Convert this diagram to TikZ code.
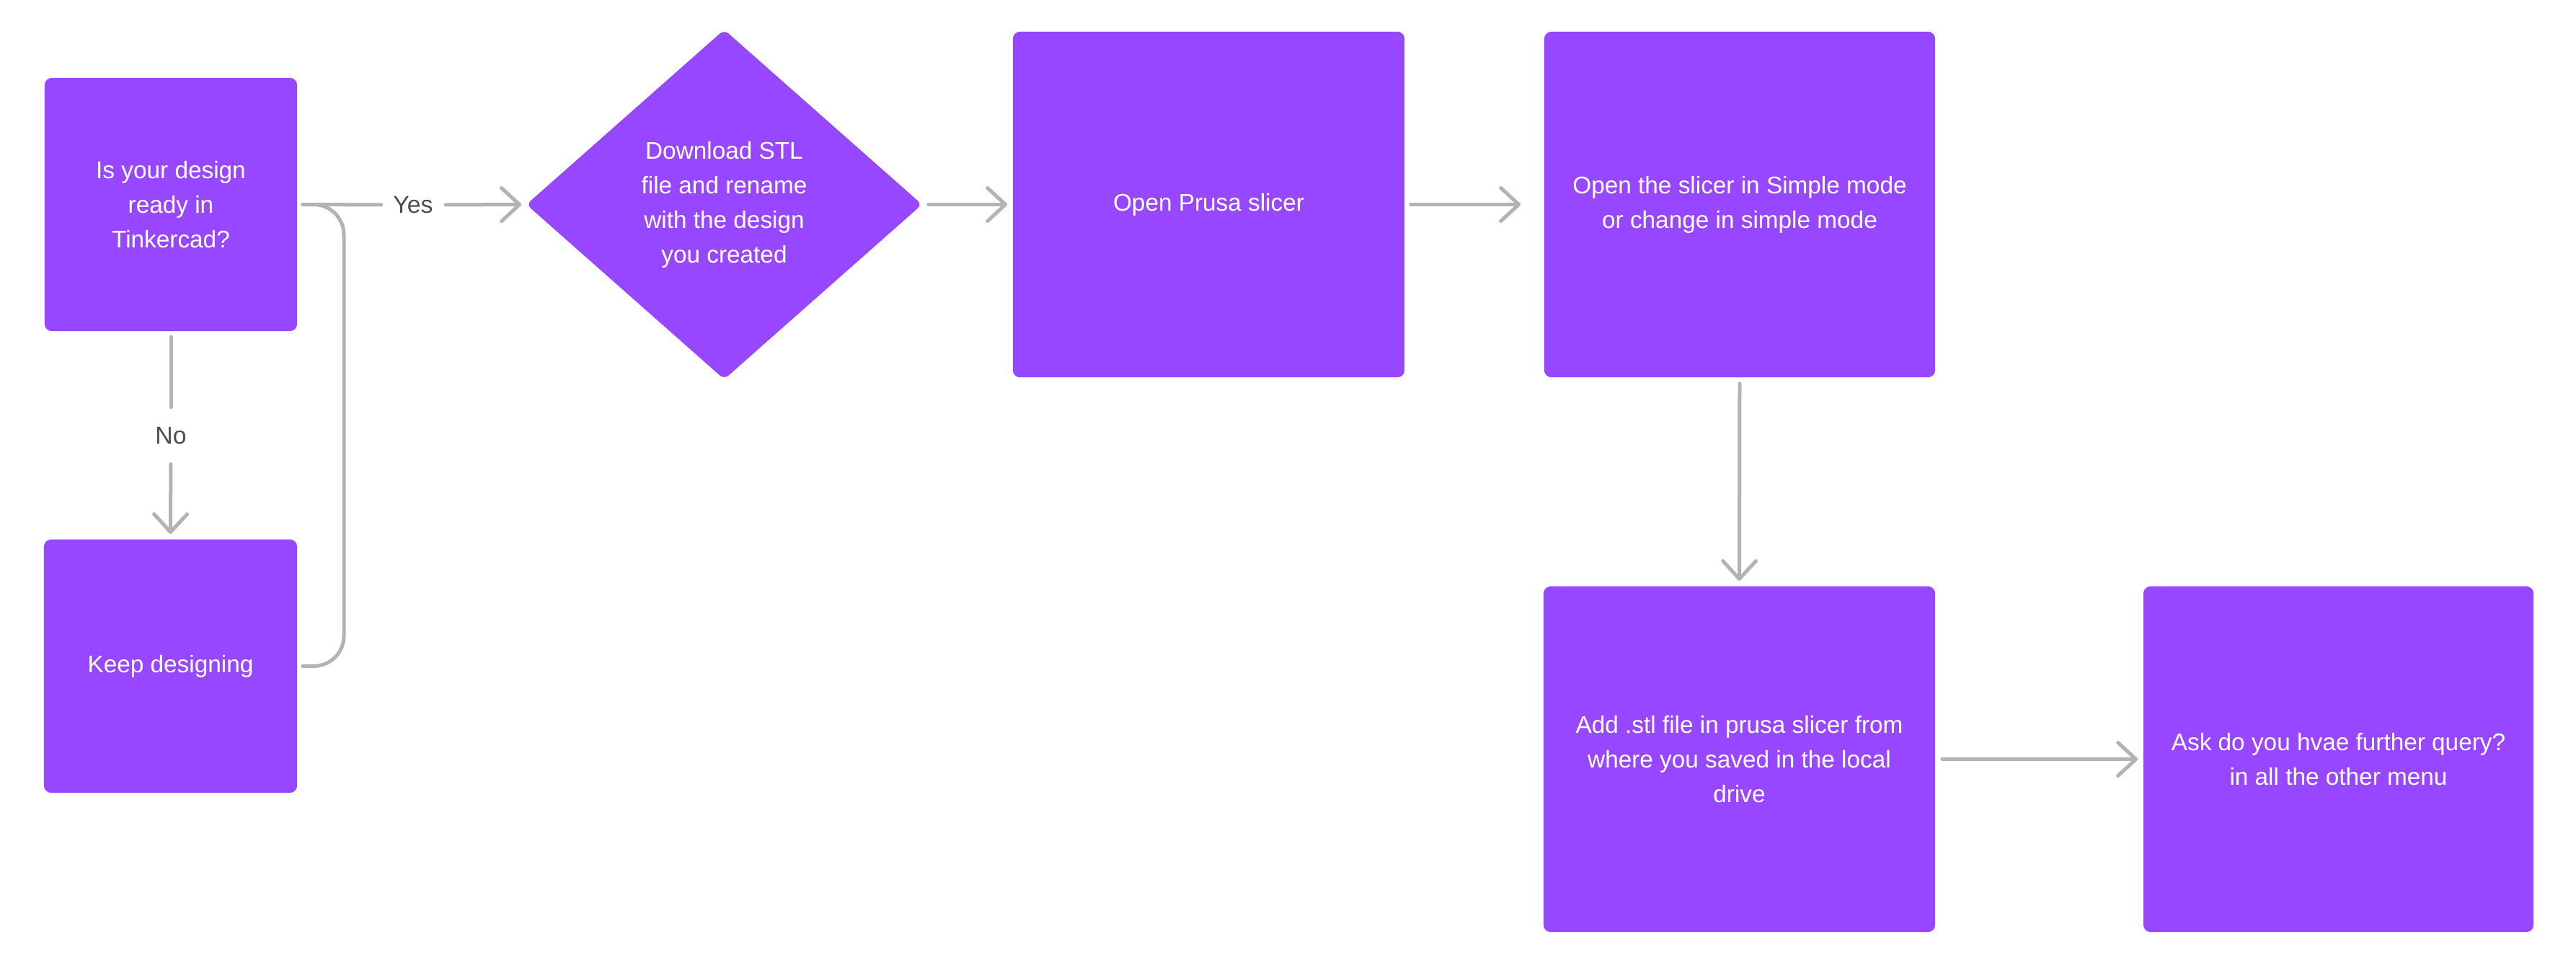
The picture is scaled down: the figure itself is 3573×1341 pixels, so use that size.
\documentclass[tikz,border=0pt]{standalone}
\usepackage{fontspec}
\setmainfont{Liberation Sans}
\usetikzlibrary{arrows.meta,shapes.geometric}
\definecolor{boxpurple}{HTML}{9747FF}
\definecolor{linegray}{HTML}{B3B3B3}
\definecolor{labelgray}{HTML}{4D4D4D}
\begin{document}
\begin{tikzpicture}[x=0.01cm,y=-0.01cm,
  stepbox/.style={fill=boxpurple, draw=none, rounded corners=0.1cm, text=white, align=center, inner sep=0pt, font=\fontsize{9.48pt}{13.66pt}\selectfont},
  conn/.style={draw=linegray, line width=0.05cm, line cap=round, line join=round},
  arr/.style={conn, -{Straight Barb[length=0.25cm,width=0.46cm,round]}},
  lbl/.style={text=labelgray, inner sep=0pt, font=\fontsize{9.6pt}{13.66pt}\selectfont}]
\fill[white] (0,0) rectangle (3573,1341);
\useasboundingbox (0,0) rectangle (3573,1341);

\node[stepbox, minimum width=3.5cm, minimum height=3.51cm] (b1) at (237,283.5) {Is your design\\ready in\\Tinkercad?};
\node[stepbox, minimum width=3.51cm, minimum height=3.51cm] (b2) at (236.5,923.5) {Keep designing};
\node[stepbox, shape=diamond, minimum width=5.49cm, minimum height=4.85cm, rounded corners=0.08cm] (dia) at (1004.5,283.5) {Download STL\\file and rename\\with the design\\you created};
\node[stepbox, minimum width=5.43cm, minimum height=4.79cm] (b3) at (1676.5,283.5) {Open Prusa slicer};
\node[stepbox, minimum width=5.42cm, minimum height=4.79cm] (b4) at (2413,283.5) {Open the slicer in Simple mode\\or change in simple mode};
\node[stepbox, minimum width=5.43cm, minimum height=4.79cm] (b5) at (2412.5,1052.5) {Add .stl file in prusa slicer from\\where you saved in the local\\drive};
\node[stepbox, minimum width=5.41cm, minimum height=4.79cm] (b6) at (3243.5,1052.5) {Ask do you hvae further query?\\in all the other menu};

\node[lbl] (yes) at (573,284) {Yes};
\node[lbl] (no) at (237,604) {No};
\coordinate (j) at ([xshift=0.07cm]b1.east);

\draw[conn, shorten >=0.16cm] (j) -- (yes.west);
\draw[arr, shorten <=0.17cm, shorten >=0.06cm] (yes.east) -- (dia.west);
\draw[conn, shorten <=0.07cm, shorten >=0.27cm] (b1.south) -- (no.north);
\draw[arr, shorten <=0.27cm, shorten >=0.07cm] (no.south) -- (b2.north);
\draw[conn, rounded corners=0.42cm, shorten <=0.07cm] (b2.east) -- (477,923.5) -- (477,283.5) -- (j);
\draw[arr, shorten <=0.08cm, shorten >=0.07cm] (dia.east) -- (b3.west);
\draw[arr, shorten <=0.08cm, shorten >=0.32cm] (b3.east) -- (b4.west);
\draw[arr, shorten <=0.08cm, shorten >=0.07cm] (b4.south) -- (b5.north);
\draw[arr, shorten <=0.09cm, shorten >=0.07cm] (b5.east) -- (b6.west);
\end{tikzpicture}
\end{document}
